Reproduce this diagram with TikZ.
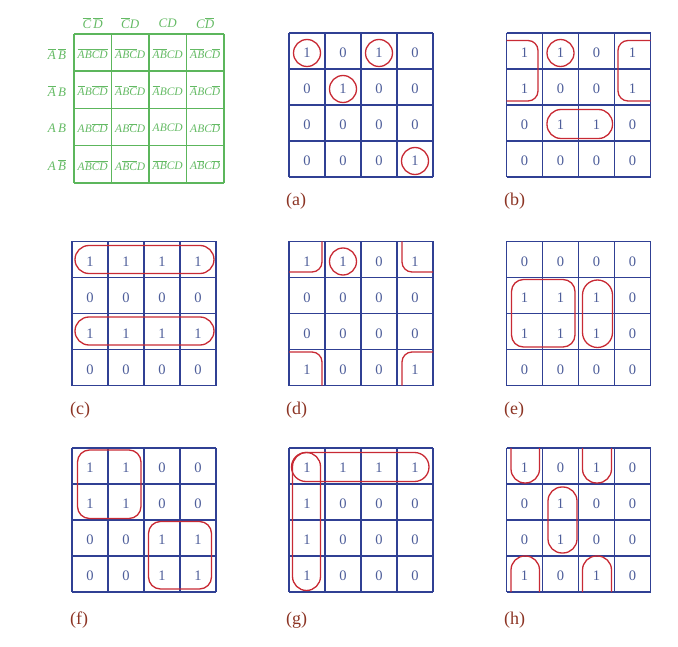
\RequirePackage{fix-cm}
\documentclass[tikz,border=0pt]{standalone}
\usepackage{fontspec}
\setmainfont{Liberation Serif}
\usetikzlibrary{calc}
\definecolor{gridblue}{RGB}{48,64,148}
\definecolor{digitblue}{RGB}{78,94,154}
\definecolor{loopred}{RGB}{200,42,52}
\definecolor{labelred}{RGB}{140,52,36}
\definecolor{kgreen}{RGB}{92,182,92}
\definecolor{kgreentext}{RGB}{100,186,100}
\tikzset{
  gridline/.style={draw=gridblue, line width=1.6pt},
  greenline/.style={draw=kgreen, line width=1.5pt},
  digit/.style={text=digitblue, inner sep=0pt, font=\fontsize{14.5}{16}\selectfont},
  kloop/.style={draw=loopred, line width=1.3pt},
  sublabel/.style={text=labelred, inner sep=0pt, anchor=west, font=\fontsize{18}{20}\selectfont},
  gcell/.style={text=kgreentext, inner sep=0pt, font=\fontsize{11.5}{13}\selectfont\itshape},
  ghead/.style={text=kgreentext, inner sep=0pt, font=\fontsize{13}{15}\selectfont\itshape},
}
\newcommand{\ov}[1]{$\overline{\mbox{#1}}$}
\newcommand{\kmap}[4]{%
  \foreach \k in {0,...,4} {
    \draw[gridline] (#2+36*\k,#3) -- (#2+36*\k,#3+144);
    \draw[gridline] (#2,#3+36*\k) -- (#2+144,#3+36*\k);
  }
  \foreach \rowlist [count=\r from 0] in {#4} {
    \foreach \v [count=\c from 0] in \rowlist {
      \node[digit] (#1-\r-\c) at (#2+36*\c+18,#3+36*\r+20) {\v};
    }
  }
}
\newcommand{\gc}[3]{\node[gcell] (k-#1-#2) at (74+37.5*#2+18.75,34+37.25*#1+19.5) {#3};}
\begin{document}
\begin{tikzpicture}[x=1pt,y=-1pt]
\useasboundingbox (0,0) rectangle (678,647);

% ---------- green reference map ----------
\foreach \k in {0,...,4} {
  \draw[greenline] (74+37.5*\k,34) -- (74+37.5*\k,183);
  \draw[greenline] (74,34+37.25*\k) -- (224,34+37.25*\k);
}
\node[ghead] (h0) at (92.75,23) {\ov{C}\,\ov{D}};
\node[ghead] (h1) at (130.25,23) {\ov{C}D};
\node[ghead] (h2) at (167.75,23) {CD};
\node[ghead] (h3) at (205.25,23) {C\ov{D}};
\node[ghead] (v0) at (57,54) {\ov{A}\,\ov{B}};
\node[ghead] (v1) at (57,91) {\ov{A}\,B};
\node[ghead] (v2) at (57,128) {A\,B};
\node[ghead] (v3) at (57,165) {A\,\ov{B}};
\gc{0}{0}{\ov{A}\ov{B}\ov{C}\ov{D}}
\gc{0}{1}{\ov{A}\ov{B}\ov{C}D}
\gc{0}{2}{\ov{A}\ov{B}CD}
\gc{0}{3}{\ov{A}\ov{B}C\ov{D}}
\gc{1}{0}{\ov{A}B\ov{C}\ov{D}}
\gc{1}{1}{\ov{A}B\ov{C}D}
\gc{1}{2}{\ov{A}BCD}
\gc{1}{3}{\ov{A}BC\ov{D}}
\gc{2}{0}{AB\ov{C}\ov{D}}
\gc{2}{1}{AB\ov{C}D}
\gc{2}{2}{ABCD}
\gc{2}{3}{ABC\ov{D}}
\gc{3}{0}{A\ov{B}\ov{C}\ov{D}}
\gc{3}{1}{A\ov{B}\ov{C}D}
\gc{3}{2}{\ov{A}\ov{B}CD}
\gc{3}{3}{A\ov{B}C\ov{D}}

% ---------- maps ----------
\kmap{a}{289}{33}{{1,0,1,0},{0,1,0,0},{0,0,0,0},{0,0,0,1}}
\kmap{b}{506.5}{33}{{1,1,0,1},{1,0,0,1},{0,1,1,0},{0,0,0,0}}
\kmap{c}{72}{241.5}{{1,1,1,1},{0,0,0,0},{1,1,1,1},{0,0,0,0}}
\kmap{d}{289}{241.5}{{1,1,0,1},{0,0,0,0},{0,0,0,0},{1,0,0,1}}
\kmap{e}{506.5}{241.5}{{0,0,0,0},{1,1,1,0},{1,1,1,0},{0,0,0,0}}
\kmap{f}{72}{448}{{1,1,0,0},{1,1,0,0},{0,0,1,1},{0,0,1,1}}
\kmap{g}{289}{448}{{1,1,1,1},{1,0,0,0},{1,0,0,0},{1,0,0,0}}
\kmap{h}{506.5}{448}{{1,0,1,0},{0,1,0,0},{0,1,0,0},{1,0,1,0}}

% ---------- labels ----------
\node[sublabel] (la) at (286,201) {(a)};
\node[sublabel] (lb) at (504,201) {(b)};
\node[sublabel] (lc) at (70,410) {(c)};
\node[sublabel] (ld) at (286,410) {(d)};
\node[sublabel] (le) at (504,410) {(e)};
\node[sublabel] (lf) at (70,620) {(f)};
\node[sublabel] (lg) at (286,620) {(g)};
\node[sublabel] (lh) at (504,620) {(h)};

% ---------- loops (a) ----------
\foreach \n in {a-0-0,a-0-2,a-1-1,a-3-3} \draw[kloop] (\n) circle[radius=13.5pt];

% ---------- loops (b) ----------
\draw[kloop, rounded corners=10pt] (506.5,40.5) -- (538,40.5) -- (538,101) -- (506.5,101);
\draw[kloop, rounded corners=10pt] (650.5,40.5) -- (618,40.5) -- (618,101) -- (650.5,101);
\draw[kloop] (b-0-1) circle[radius=13.5pt];
\draw[kloop, rounded corners=14pt] (547,109.5) rectangle (612.5,138.5);

% ---------- loops (c) ----------
\draw[kloop, rounded corners=14pt] (75,245.5) rectangle (214,273.5);
\draw[kloop, rounded corners=14pt] (75,317) rectangle (214,345);

% ---------- loops (d) ----------
\draw[kloop, rounded corners=10pt] (322,241.5) -- (322,272) -- (289,272);
\draw[kloop, rounded corners=10pt] (402,241.5) -- (402,272) -- (433,272);
\draw[kloop, rounded corners=10pt] (289,352) -- (322,352) -- (322,385.5);
\draw[kloop, rounded corners=10pt] (433,352) -- (402,352) -- (402,385.5);
\draw[kloop] (d-0-1) circle[radius=13.5pt];

% ---------- loops (e) ----------
\draw[kloop, rounded corners=12pt] (511.5,279.5) rectangle (575,347);
\draw[kloop, rounded corners=15pt] (582.5,280) rectangle (612.5,347.5);

% ---------- loops (f) ----------
\draw[kloop, rounded corners=12pt] (77.5,450) rectangle (141,518.5);
\draw[kloop, rounded corners=12pt] (148.5,521.5) rectangle (211.5,589);

% ---------- loops (g) ----------
\draw[kloop, rounded corners=14.5pt] (291.5,452.5) rectangle (429,481.5);
\draw[kloop, rounded corners=14pt] (292.5,452.5) rectangle (320.5,590.5);

% ---------- loops (h) ----------
\draw[kloop, rounded corners=14pt] (511,448) -- (511,483) -- (539.5,483) -- (539.5,448);
\draw[kloop, rounded corners=14pt] (582.5,448) -- (582.5,483) -- (611.5,483) -- (611.5,448);
\draw[kloop, rounded corners=14pt] (511,592) -- (511,556) -- (539.5,556) -- (539.5,592);
\draw[kloop, rounded corners=14pt] (582.5,592) -- (582.5,556) -- (611.5,556) -- (611.5,592);
\draw[kloop, rounded corners=14pt] (548,487) rectangle (577,553);
\end{tikzpicture}
\end{document}
